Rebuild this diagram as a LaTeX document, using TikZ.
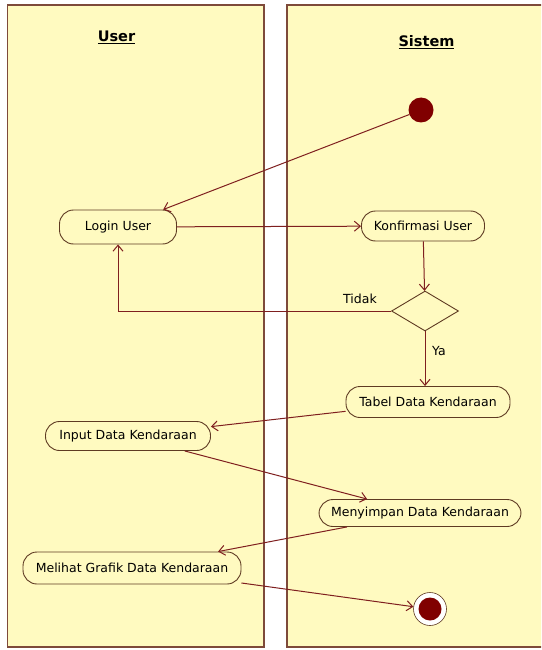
\documentclass[tikz,border=0pt]{standalone}
\usepackage{fontspec}
\setmainfont{DejaVu Sans}
\usetikzlibrary{arrows.meta,shapes.geometric}
\definecolor{lanefill}{HTML}{FFFAC0}
\definecolor{laneborder}{HTML}{7E4A3A}
\definecolor{edgecol}{HTML}{7F1F1F}
\definecolor{dotcol}{HTML}{800000}
\definecolor{boxborder}{HTML}{5E3A22}
\begin{document}
\begin{tikzpicture}[x=1pt,y=-1pt,
  lanebox/.style={draw=laneborder, fill=lanefill, line width=1.4pt},
  act/.style={draw=boxborder, fill=lanefill, rounded corners=14pt, line width=0.9pt,
    inner sep=0pt, font=\fontsize{12.5}{14}\selectfont},
  flow/.style={draw=edgecol, line width=1pt, -{Straight Barb[length=6pt,width=10pt]}},
  lbl/.style={font=\fontsize{12.5}{14}\selectfont, inner sep=1pt},
  ttl/.style={font=\fontsize{14.5}{16}\selectfont\bfseries},
]
\useasboundingbox (0,0) rectangle (541,650);
\clip (0,0) rectangle (541,650);
\fill[white] (0,0) rectangle (541,650);
% swimlanes
\draw[lanebox] (7.5,5) rectangle (264,647);
\draw[lanebox] (287,5) rectangle (560,647);
\node[ttl] (tuser) at (116.5,37) {\underline{User}};
\node[ttl] (tsis) at (426.5,42) {\underline{Sistem}};
% nodes
\node[circle, fill=dotcol, minimum size=25pt, inner sep=0pt] (init) at (421,110) {};
\node[act, minimum width=117pt, minimum height=34pt] (login) at (118,227) {Login User};
\node[act, minimum width=123pt, minimum height=30pt] (konf) at (423,226) {Konfirmasi User};
\node[diamond, draw=boxborder, fill=lanefill, line width=0.9pt, inner sep=0pt,
      minimum width=67pt, minimum height=40pt] (dec) at (425,311) {};
\node[act, minimum width=164pt, minimum height=31pt] (tabel) at (428,402) {Tabel Data Kendaraan};
\node[act, minimum width=165pt, minimum height=29pt] (input) at (128,436) {Input Data Kendaraan};
\node[act, minimum width=202pt, minimum height=27pt] (simpan) at (420,513) {Menyimpan Data Kendaraan};
\node[act, minimum width=218pt, minimum height=32pt] (lihat) at (132,568) {Melihat Grafik Data Kendaraan};
\node[circle, draw=boxborder, fill=white, line width=0.6pt, minimum size=33pt, inner sep=0pt] (fin) at (430,609) {};
\fill[dotcol] (fin.center) circle (11.5pt);
% connectors
\draw[flow] (init) -- (login);
\draw[flow] (login) -- (konf);
\draw[flow] (konf) -- (dec);
\draw[flow] (dec.west) -| (login.south);
\draw[flow] (dec) -- (tabel.north -| dec.south);
\draw[flow] (tabel) -- (input);
\draw[flow] (input) -- (simpan);
\draw[flow] (simpan) -- (lihat);
\draw[flow] (lihat) -- (fin);
% labels
\node[lbl] (ltidak) at (360,299) {Tidak};
\node[lbl] (lya) at (439,351) {Ya};
\end{tikzpicture}
\end{document}
